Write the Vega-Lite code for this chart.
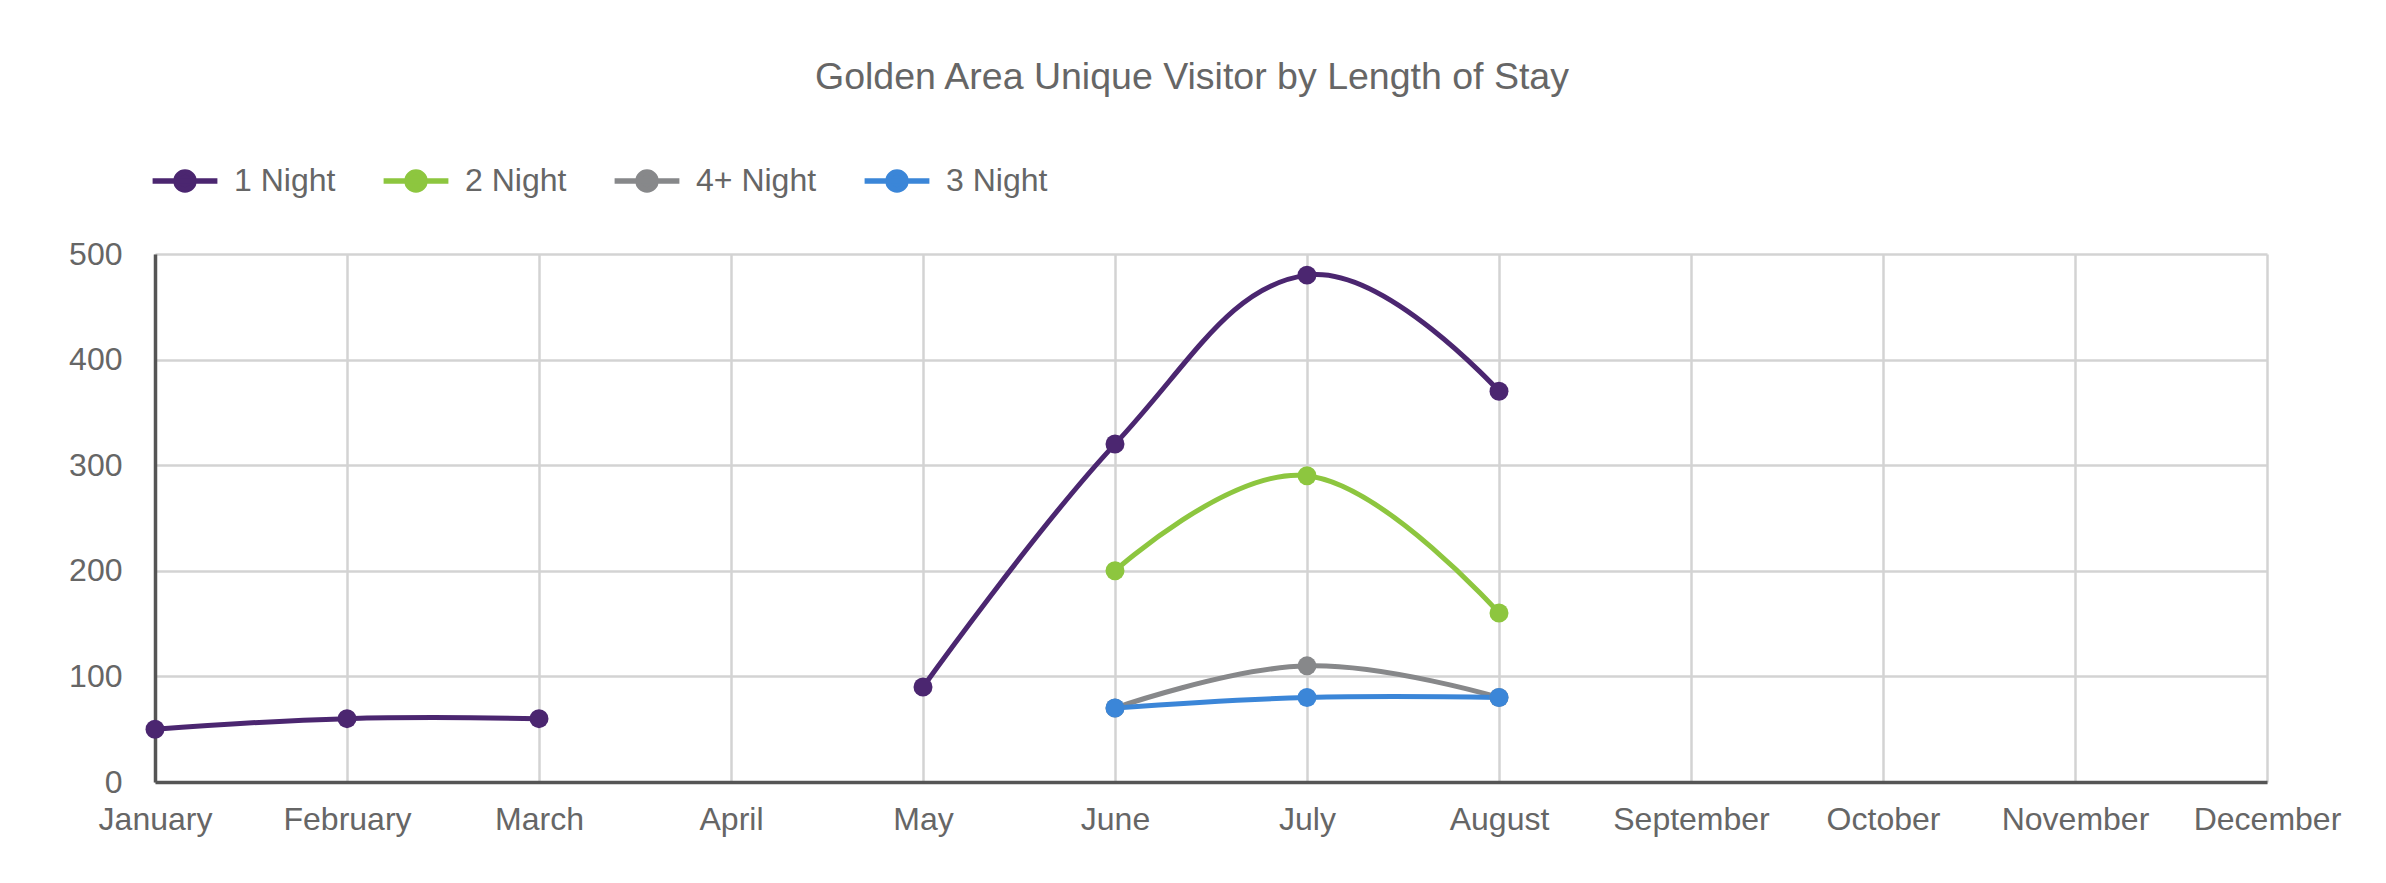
{
  "$schema": "https://vega.github.io/schema/vega-lite/v6.json",
  "width": 2112,
  "height": 528,
  "autosize": {"type": "none"},
  "padding": {"left": 155, "top": 254, "right": 119, "bottom": 101},
  "background": "white",
  "title": {
    "text": "Golden Area Unique Visitor by Length of Stay",
    "fontSize": 37.5,
    "font": "Liberation Sans",
    "fontWeight": "normal",
    "color": "#666666",
    "anchor": "middle",
    "dx": -19,
    "offset": 69
  },
  "config": {
    "view": {"stroke": null},
    "font": "Liberation Sans"
  },
  "data": {
    "values": [
      {"month": "January", "stay": "1 Night", "visitors": 50},
      {"month": "February", "stay": "1 Night", "visitors": 60},
      {"month": "March", "stay": "1 Night", "visitors": 60},
      {"month": "April", "stay": "1 Night", "visitors": null},
      {"month": "May", "stay": "1 Night", "visitors": 90},
      {"month": "June", "stay": "1 Night", "visitors": 320},
      {"month": "July", "stay": "1 Night", "visitors": 480},
      {"month": "August", "stay": "1 Night", "visitors": 370},
      {"month": "June", "stay": "2 Night", "visitors": 200},
      {"month": "July", "stay": "2 Night", "visitors": 290},
      {"month": "August", "stay": "2 Night", "visitors": 160},
      {"month": "June", "stay": "4+ Night", "visitors": 70},
      {"month": "July", "stay": "4+ Night", "visitors": 110},
      {"month": "August", "stay": "4+ Night", "visitors": 80},
      {"month": "June", "stay": "3 Night", "visitors": 70},
      {"month": "July", "stay": "3 Night", "visitors": 80},
      {"month": "August", "stay": "3 Night", "visitors": 80}
    ]
  },
  "encoding": {
    "x": {
      "field": "month",
      "type": "ordinal",
      "sort": ["January","February","March","April","May","June","July","August","September","October","November","December"],
      "scale": {
        "type": "point",
        "padding": 0,
        "domain": ["January","February","March","April","May","June","July","August","September","October","November","December"]
      },
      "axis": {
        "title": null,
        "labelAngle": 0,
        "labelFontSize": 32,
        "labelColor": "#666666",
        "labelPadding": 22,
        "labelOverlap": false,
        "ticks": false,
        "grid": true,
        "gridColor": "#d3d3d3",
        "gridWidth": 2.5,
        "domainColor": "#555555",
        "domainWidth": 3.5
      }
    },
    "y": {
      "field": "visitors",
      "type": "quantitative",
      "scale": {"domain": [0, 500], "nice": false},
      "axis": {
        "title": null,
        "values": [0, 100, 200, 300, 400, 500],
        "labelFontSize": 32,
        "labelColor": "#666666",
        "labelPadding": 33,
        "ticks": false,
        "grid": true,
        "gridColor": "#d3d3d3",
        "gridWidth": 2.5,
        "domainColor": "#555555",
        "domainWidth": 3.5
      }
    },
    "color": {
      "field": "stay",
      "type": "nominal",
      "sort": ["1 Night", "2 Night", "4+ Night", "3 Night"],
      "scale": {
        "domain": ["1 Night", "2 Night", "4+ Night", "3 Night"],
        "range": ["#4b2670", "#8dc63f", "#87888a", "#3b86d8"]
      },
      "legend": {
        "title": null,
        "orient": "none",
        "direction": "horizontal",
        "legendX": 14,
        "legendY": -89,
        "symbolType": "M -3.6 0 L 3.6 0 M -1 0 A 1 1 0 1 1 1 0 A 1 1 0 1 1 -1 0",
        "symbolSize": 324,
        "symbolStrokeWidth": 5.5,
        "labelFontSize": 32,
        "labelColor": "#666666",
        "labelFont": "Liberation Sans",
        "labelOffset": 33,
        "columnPadding": 36,
        "encode": {
          "symbols": {
            "update": {
              "fill": {"scale": "color", "field": "value"},
              "stroke": {"scale": "color", "field": "value"},
              "opacity": {"value": 1}
            }
          }
        }
      }
    }
  },
  "layer": [
    {
      "mark": {
        "type": "line",
        "interpolate": "cardinal",
        "tension": -0.2,
        "strokeWidth": 5,
        "invalid": "break-paths-show-domains"
      }
    },
    {
      "mark": {
        "type": "point",
        "filled": true,
        "size": 360,
        "opacity": 1,
        "invalid": "break-paths-show-domains"
      }
    }
  ]
}
